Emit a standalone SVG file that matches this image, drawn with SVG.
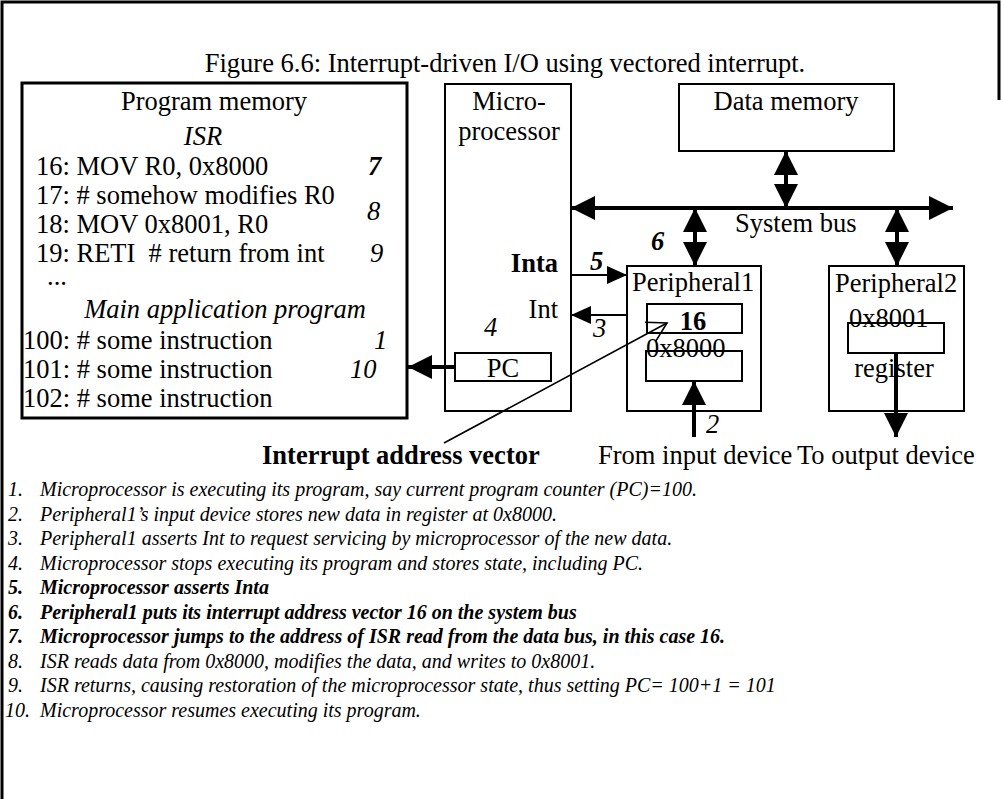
<svg xmlns="http://www.w3.org/2000/svg" width="1002" height="799" viewBox="0 0 1002 799">
<style>
text{font-family:"Liberation Serif","Times New Roman",serif;font-size:26.5px;fill:#000}
.i{font-style:italic}
.b{font-weight:bold}
.m{text-anchor:middle}
.e{text-anchor:end}
.pre{white-space:pre}
.l{font-size:20px;font-style:italic}
.box{fill:#fff;stroke:#000;stroke-width:2}
.thick{stroke-width:3}
.sh{stroke:#000;stroke-width:4;fill:none}
.thin{stroke:#000;stroke-width:2;fill:none}
</style>
<defs>
<marker id="big" viewBox="0 0 24 24" markerWidth="24" markerHeight="24" refX="24" refY="12" orient="auto-start-reverse" markerUnits="userSpaceOnUse"><path d="M0,0 L24,12 L0,24 Z" fill="#000"/></marker>
<marker id="sm" viewBox="0 0 20 18" markerWidth="20" markerHeight="18" refX="20" refY="9" orient="auto" markerUnits="userSpaceOnUse"><path d="M0,0 L20,9 L0,18 Z" fill="#000"/></marker>
<marker id="open" viewBox="-22 -13 24 26" markerWidth="24" markerHeight="26" refX="0" refY="0" orient="auto" markerUnits="userSpaceOnUse"><path d="M-19,-11 L0,0 L-19,11" fill="none" stroke="#000" stroke-width="1.6"/></marker>
</defs>
<rect width="1002" height="799" fill="#fff"/>
<path d="M2,799 V2 H999 V100" fill="none" stroke="#000" stroke-width="3"/>
<text class="m" x="505" y="72">Figure 6.6: Interrupt-driven I/O using vectored interrupt.</text>

<g id="program-memory">
<rect class="box thick" x="22" y="83" width="385" height="335"/>
<text class="m" x="214" y="110">Program memory</text>
<text class="m i" x="203" y="145">ISR</text>
<text x="36" y="175">16: MOV R0, 0x8000</text>
<text class="b i" x="368" y="175">7</text>
<text x="36" y="204">17: # somehow modifies R0</text>
<text class="i" x="367" y="220">8</text>
<text x="36" y="233">18: MOV 0x8001, R0</text>
<text class="pre" x="36" y="262">19: RETI  # return from int</text>
<text class="i" x="370" y="262">9</text>
<text x="47" y="285">...</text>
<text class="m i" x="225" y="318">Main application program</text>
<text x="23" y="349">100: # some instruction</text>
<text class="i" x="374" y="349">1</text>
<text x="23" y="378">101: # some instruction</text>
<text class="i" x="350" y="378">10</text>
<text x="23" y="407">102: # some instruction</text>
</g>

<g id="microprocessor">
<rect class="box" x="445" y="84" width="126" height="327"/>
<text class="m" x="509" y="110">Micro-</text>
<text class="m" x="509" y="140">processor</text>
<text class="b e" x="558" y="272">Inta</text>
<text class="e" x="558" y="318">Int</text>
<text class="i" x="484" y="336">4</text>
</g>

<g id="pc">
<rect class="box" x="455" y="353" width="96" height="28"/>
<text class="m" x="503" y="377">PC</text>
</g>

<g id="data-memory">
<rect class="box" x="679" y="84" width="215" height="67"/>
<text class="m" x="786" y="110">Data memory</text>
</g>

<g id="peripheral1">
<rect class="box" x="627" y="266" width="134" height="145"/>
<text x="632" y="291">Peripheral1</text>
<rect class="box" x="647" y="304" width="95" height="29"/>
<text class="m b" x="693" y="330">16</text>
<text x="646" y="357">0x8000</text>
<path class="thin" d="M646,381 V351 H742 V381 Z"/>
</g>

<g id="peripheral2">
<rect class="box" x="829" y="266" width="135" height="145"/>
<text x="835" y="292">Peripheral2</text>
<text x="849" y="327">0x8001</text>
<path class="thin" d="M848,353 V323 H944 V353 Z"/>
<text class="m" x="894" y="377">register</text>
</g>

<g id="labels">
<text x="735" y="232">System bus</text>
<text class="b i" x="651" y="250">6</text>
<text class="b i" x="590" y="270">5</text>
<text class="i" x="593" y="337">3</text>
<text class="i" x="706" y="433">2</text>
<text class="b" x="262" y="464">Interrupt address vector</text>
<text x="598" y="464">From input device</text>
<text x="797" y="464">To output device</text>
</g>

<g id="connectors">
<line class="sh" x1="571" y1="208" x2="953" y2="208" marker-start="url(#big)" marker-end="url(#big)"/>
<line class="sh" x1="786" y1="151" x2="786" y2="208" marker-start="url(#big)" marker-end="url(#big)"/>
<line class="sh" x1="695" y1="208" x2="695" y2="266" marker-start="url(#big)" marker-end="url(#big)"/>
<line class="sh" x1="897" y1="208" x2="897" y2="266" marker-start="url(#big)" marker-end="url(#big)"/>
<line class="thin" x1="571" y1="275" x2="627" y2="275" marker-end="url(#sm)"/>
<line class="thin" x1="627" y1="315" x2="571" y2="315" marker-end="url(#sm)"/>
<line class="sh" x1="455" y1="367" x2="408" y2="367" marker-end="url(#big)"/>
<line class="sh" x1="694" y1="437" x2="694" y2="381" marker-end="url(#big)"/>
<line class="sh" x1="896" y1="353" x2="896" y2="437" marker-end="url(#big)"/>
<line stroke="#000" stroke-width="1.6" x1="444" y1="443" x2="667" y2="323" marker-end="url(#open)"/>
</g>

<g id="steps">
<text class="l" x="8" y="496">1.</text><text class="l" x="40" y="496">Microprocessor is executing its program, say current program counter (PC)=100.</text>
<text class="l" x="8" y="520.5">2.</text><text class="l" x="40" y="520.5">Peripheral1’s input device stores new data in register at 0x8000.</text>
<text class="l" x="8" y="545">3.</text><text class="l" x="40" y="545">Peripheral1 asserts Int to request servicing by microprocessor of the new data.</text>
<text class="l" x="8" y="569.5">4.</text><text class="l" x="40" y="569.5">Microprocessor stops executing its program and stores state, including PC.</text>
<text class="l b" x="8" y="594">5.</text><text class="l b" x="40" y="594">Microprocessor asserts Inta</text>
<text class="l b" x="8" y="618.5">6.</text><text class="l b" x="40" y="618.5">Peripheral1 puts its interrupt address vector 16 on the system bus</text>
<text class="l b" x="8" y="643">7.</text><text class="l b" x="40" y="643">Microprocessor jumps to the address of ISR read from the data bus, in this case 16.</text>
<text class="l" x="8" y="667.5">8.</text><text class="l" x="40" y="667.5">ISR reads data from 0x8000, modifies the data, and writes to 0x8001.</text>
<text class="l" x="8" y="692">9.</text><text class="l" x="40" y="692">ISR returns, causing restoration of the microprocessor state, thus setting PC= 100+1 = 101</text>
<text class="l" x="5" y="716.5">10.</text><text class="l" x="40" y="716.5">Microprocessor resumes executing its program.</text>
</g>
</svg>
